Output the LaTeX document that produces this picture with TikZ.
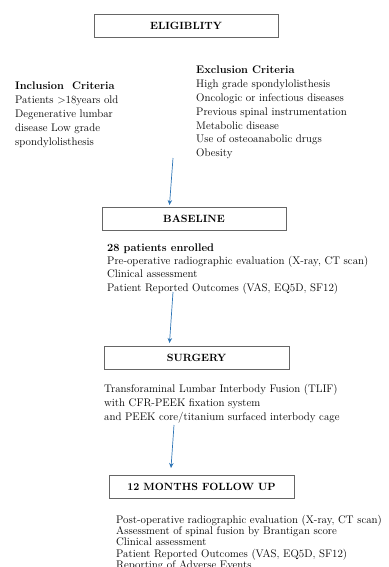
\documentclass[tikz,border=0pt]{standalone}
\usepackage{tikz}
\usetikzlibrary{arrows.meta,positioning}

\tikzset{
  stagebox/.style={draw=black!60,line width=0.8pt,minimum height=23pt,inner sep=0pt,
    font=\fontsize{10.5}{12}\selectfont\bfseries},
  infotext/.style={anchor=north west,align=left,inner sep=0pt,
    font=\fontsize{11}{13.8}\selectfont},
  flow/.style={draw={rgb,255:red,46;green,117;blue,182},line width=0.7pt,
    -{Stealth[length=5pt,width=4.5pt]}}
}

\begin{document}
\begin{tikzpicture}[x=1pt,y=-1pt]
\useasboundingbox (0,0) rectangle (388,567);

% stage boxes
\node[stagebox,minimum width=184pt] (elig) at (186,25.5) {ELIGIBLITY};
\node[stagebox,minimum width=184pt] (base) at (194,218.5) {BASELINE};
\node[stagebox,minimum width=185pt] (surg) at (196.5,357.5) {SURGERY};
\node[stagebox,minimum width=185pt] (follow) at (201.5,486.5) {12 MONTHS FOLLOW UP};

% criteria
\node[infotext] (incl) at (15,82) {\textbf{Inclusion\ \ Criteria}\\
Patients >18years old\\
Degenerative lumbar\\
disease Low grade\\
spondylolisthesis};

\node[infotext] (excl) at (196,66) {\textbf{Exclusion Criteria}\\
High grade spondylolisthesis\\
Oncologic or infectious diseases\\
Previous spinal instrumentation\\
Metabolic disease\\
Use of osteoanabolic drugs\\
Obesity};

% stage details
\node[infotext,font=\fontsize{11}{13.3}\selectfont] (basetxt) at (107,243.5) {\textbf{28 patients enrolled}\\
Pre-operative radiographic evaluation (X-ray, CT scan)\\
Clinical assessment\\
Patient Reported Outcomes (VAS, EQ5D, SF12)};

\node[infotext,font=\fontsize{11}{14}\selectfont] (surgtxt) at (104,384) {Transforaminal Lumbar Interbody Fusion (TLIF)\\
with CFR-PEEK fixation system\\
and PEEK core/titanium surfaced interbody cage};

\node[infotext,font=\fontsize{11}{11.2}\selectfont] (followtxt) at (116,515) {Post-operative radiographic evaluation (X-ray, CT scan)\\
Assessment of spinal fusion by Brantigan score\\
Clinical assessment\\
Patient Reported Outcomes (VAS, EQ5D, SF12)\\
Reporting of Adverse Events};

% arrows
\coordinate (a1s) at (173,158);
\coordinate (a1e) at (169.5,205);
\coordinate (a2s) at (173,292);
\coordinate (a2e) at (169.5,343);
\coordinate (a3s) at (174,425);
\coordinate (a3e) at (171,468);
\draw[flow] (a1s) -- (a1e);
\draw[flow] (a2s) -- (a2e);
\draw[flow] (a3s) -- (a3e);

\end{tikzpicture}
\end{document}
